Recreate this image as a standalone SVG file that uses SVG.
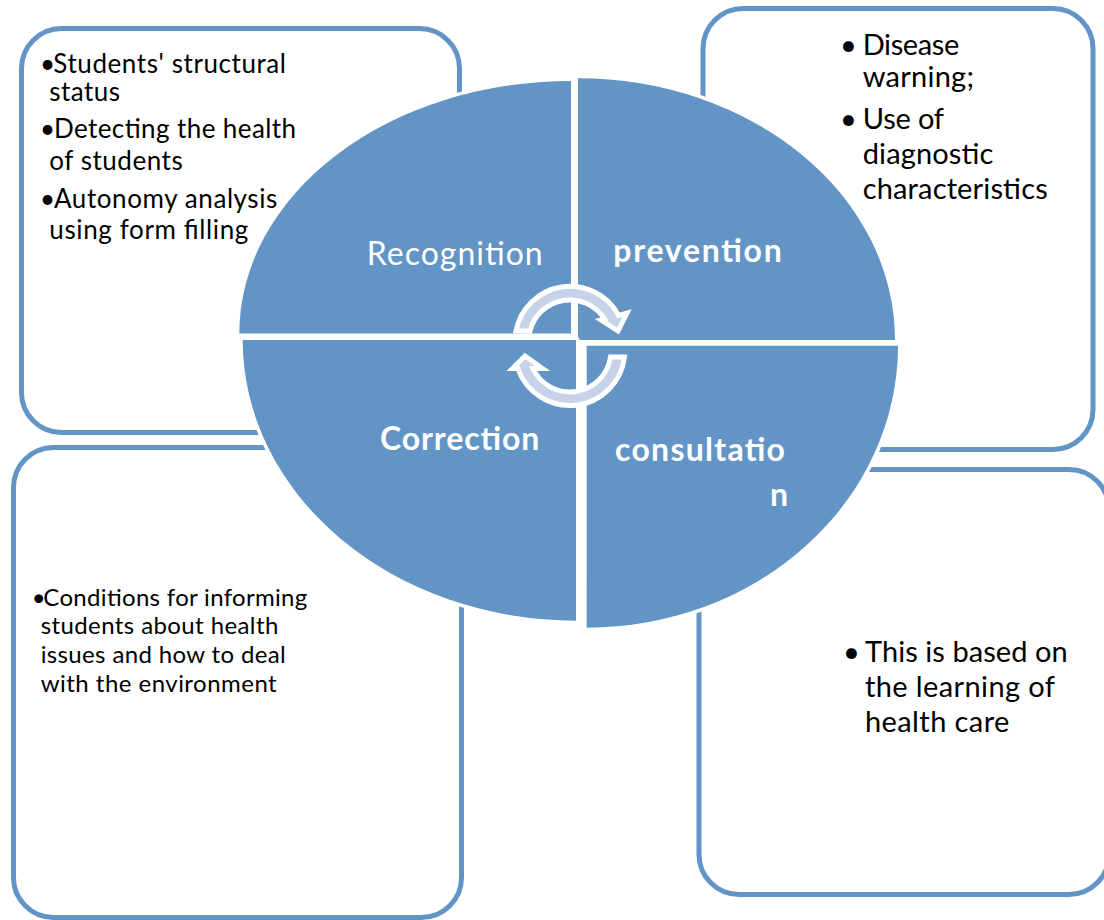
<svg xmlns="http://www.w3.org/2000/svg" width="1104" height="920" viewBox="0 0 1104 920">
<style>
.box{fill:#ffffff;stroke:#6294c6;stroke-width:5}
.q{fill:#6294c6;stroke:#ffffff;stroke-width:7;paint-order:stroke;stroke-linejoin:round}
.body{font-family:Lato,"Liberation Sans",sans-serif;fill:#000000}
.lbl{font-family:Lato,"Liberation Sans",sans-serif;fill:#ffffff;font-size:32px}
.b{font-weight:bold}
.arr{fill:#c5d2e7;stroke:#ffffff;stroke-width:5;stroke-linejoin:miter}
</style>
<rect width="1104" height="920" fill="#ffffff"/>
<g id="box-tl">
<rect class="box" x="21.5" y="28.5" width="438" height="404" rx="40" ry="40"/>
<g class="body" font-size="26">
<text><tspan x="40" y="72.7">•</tspan><tspan x="53.3" y="72.7" textLength="232.7" lengthAdjust="spacing">Students' structural</tspan></text>
<text x="49.3" y="100.7" textLength="70.7" lengthAdjust="spacing">status</text>
<text><tspan x="40" y="138.3">•</tspan><tspan x="54" y="138.3" textLength="242" lengthAdjust="spacing">Detecting the health</tspan></text>
<text x="49.3" y="170" textLength="133.4" lengthAdjust="spacing">of students</text>
<text><tspan x="40" y="208.3">•</tspan><tspan x="54" y="208.3" textLength="223.3" lengthAdjust="spacing">Autonomy analysis</tspan></text>
<text x="49.3" y="239.3" textLength="199" lengthAdjust="spacing">using form filling</text>
</g>
</g>
<g id="box-tr">
<rect class="box" x="703" y="8.5" width="390" height="441" rx="40" ry="40"/>
<g class="body" font-size="29">
<text><tspan x="840" y="55">•</tspan><tspan x="862.7" y="55" textLength="96.6" lengthAdjust="spacing">Disease</tspan></text>
<text x="862.7" y="87.3" textLength="111.3" lengthAdjust="spacing">warning;</text>
<text><tspan x="840" y="129">•</tspan><tspan x="862.7" y="129" textLength="81.3" lengthAdjust="spacing">Use of</tspan></text>
<text x="862.7" y="164" textLength="130.6" lengthAdjust="spacing">diagnostic</text>
<text x="862.7" y="198.7" textLength="185" lengthAdjust="spacing">characteristics</text>
</g>
</g>
<g id="box-bl">
<rect class="box" x="13.5" y="447.5" width="448" height="470" rx="40" ry="40"/>
<g class="body" font-size="24">
<text><tspan x="31.7" y="606">•</tspan><tspan x="43.3" y="606" textLength="264" lengthAdjust="spacing">Conditions for informing</tspan></text>
<text x="40.7" y="634" textLength="237.6" lengthAdjust="spacing">students about health</text>
<text x="40.7" y="662.5" textLength="245" lengthAdjust="spacing">issues and how to deal</text>
<text x="40.7" y="691.5" textLength="236" lengthAdjust="spacing">with the environment</text>
</g>
</g>
<g id="box-br">
<rect class="box" x="699" y="469.5" width="410" height="425" rx="40" ry="40"/>
<g class="body" font-size="29">
<text><tspan x="843" y="662.3">•</tspan><tspan x="865" y="662.3" textLength="202.7" lengthAdjust="spacing">This is based on</tspan></text>
<text x="865" y="697.3" textLength="190" lengthAdjust="spacing">the learning of</text>
<text x="865" y="732.3" textLength="144.3" lengthAdjust="spacing">health care</text>
</g>
</g>
<g id="q-recognition">
<path class="q" d="M571,333.5 H239.3 A331.7,252.5 0 0 1 571,81 Z"/>
<text class="lbl" x="366.7" y="265" textLength="176" lengthAdjust="spacing">Recognition</text>
</g>
<g id="q-prevention">
<path class="q" d="M578,340 V78.3 A317,261.7 0 0 1 895,340 Z"/>
<text class="lbl b" x="613.3" y="261.7" textLength="168.4" lengthAdjust="spacing">prevention</text>
</g>
<g id="q-correction">
<path class="q" d="M576,340 V620.7 A333.3,280.7 0 0 1 242.7,340 Z"/>
<text class="lbl b" x="380" y="450" textLength="159.3" lengthAdjust="spacing">Correction</text>
</g>
<g id="q-consultation">
<path class="q" d="M586.7,345.7 H898 A311.3,282 0 0 1 586.7,627.7 Z"/>
<text class="lbl b" x="615" y="461" textLength="170" lengthAdjust="spacing">consultatio</text>
<text class="lbl b" x="770" y="505.7" textLength="15" lengthAdjust="spacing">n</text>
</g>
<g id="connectors">
<path class="arr" d="M516,331 A55,55 0 0 1 618.5,315.3 L627,313 L618,331 L601,320 L604.5,319.1 A41,41 0 0 0 530,331 Z"/>
<path class="arr" d="M624.5,357 A55,55 0 0 1 517.9,368.5 L512.5,368.5 L525,356 L542.5,368.5 L532.9,368.5 A41,41 0 0 0 610.5,357 Z"/>
</g>
</svg>
